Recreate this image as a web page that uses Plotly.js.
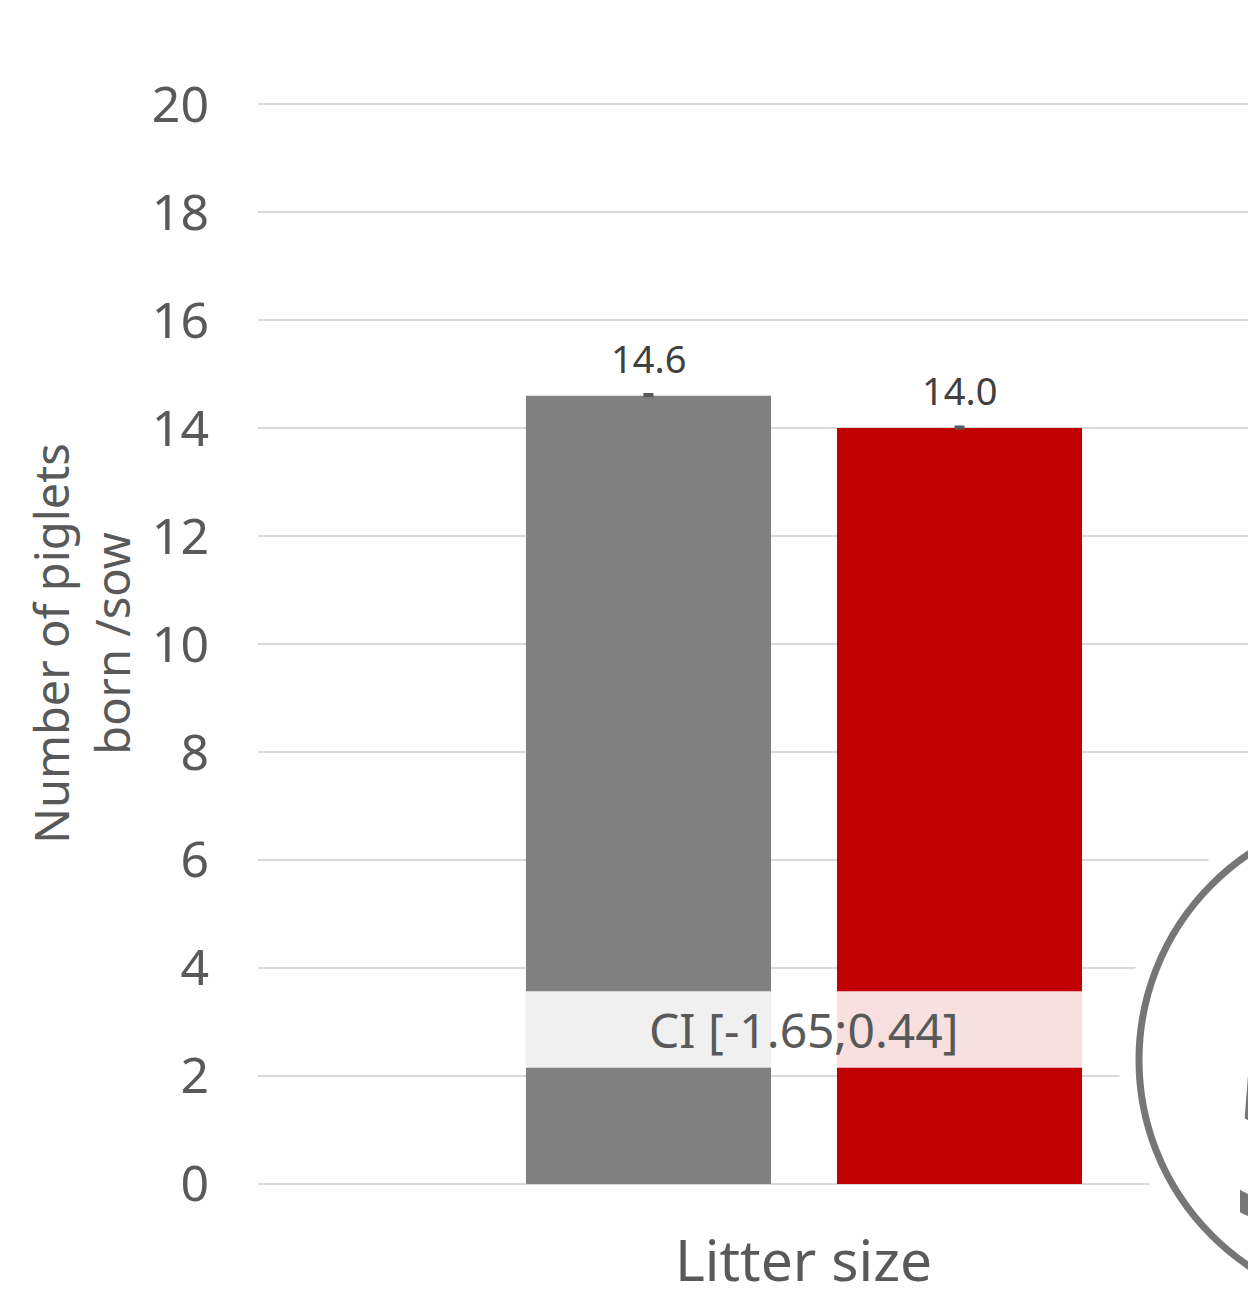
<!DOCTYPE html>
<html>
<head>
<meta charset="utf-8">
<script src="https://cdn.plot.ly/plotly-3.0.1.min.js"></script>
<style>
html,body{margin:0;padding:0;overflow:hidden;background:#fff;}
#chart{width:1349px;height:1297px;}
</style>
</head>
<body>
<div id="chart"></div>
<script>
// ---- data ----
const categories = ["Litter size"];
const groupA = [14.6];          // grey bar
const groupB = [14.0];          // red bar
const errA = [0.02];
const errB = [0.02];
const labelsA = ["14.6"];
const labelsB = ["14.0"];
const ciText = "CI [-1.65;0.44]";
const ciLow = [2.15];
const ciHigh = [3.57];
const yTicks = [0, 2, 4, 6, 8, 10, 12, 14, 16, 18, 20];
const circleText = "5%";

// ---- layout constants ----
const W = 1349, H = 1297;
const mL = 258, mR = 0, mT = 102, mB = 112;
const pw = W - mL - mR, ph = H - mT - mB;
const font = '"Noto Sans", "DejaVu Sans", sans-serif';
const barW = 0.2246;
const offA = -0.2544, offB = 0.0307;
const yMin = -0.02, yMax = 20.04;

const px2x = p => (p - mL) / pw;
const px2y = p => (H - mB - p) / ph;

const traces = [
  {
    type: 'bar', x: categories, y: groupA, width: [barW], offset: [offA],
    marker: {color: '#808080'},
    error_y: {type: 'data', array: errA, arrayminus: [0], symmetric: false, color: '#595959', thickness: 3, width: 5},
    hoverinfo: 'skip', showlegend: false
  },
  {
    type: 'bar', x: categories, y: groupB, width: [barW], offset: [offB],
    marker: {color: '#C00000'},
    error_y: {type: 'data', array: errB, arrayminus: [0], symmetric: false, color: '#595959', thickness: 3, width: 5},
    hoverinfo: 'skip', showlegend: false
  }
];

// circle geometry (decorative, partly off-page)
const cx = 1387, cy = 1060, r = 248;
const halo = r + 20;

const layout = {
  width: W, height: H,
  margin: {l: mL, r: mR, t: mT, b: mB, pad: 0},
  paper_bgcolor: '#ffffff', plot_bgcolor: '#ffffff',
  barmode: 'group',
  font: {family: font, color: '#595959'},
  xaxis: {
    type: 'category', range: [-0.5, 0.5],
    showgrid: false, showline: false, zeroline: false, ticks: '',
    tickfont: {size: 57, color: '#595959', family: font},
    ticklabelstandoff: 38, fixedrange: true
  },
  yaxis: {
    range: [yMin, yMax], tickvals: yTicks, ticktext: yTicks.map(String),
    showgrid: true, gridcolor: '#d9d9d9', gridwidth: 2,
    zeroline: false, showline: false, ticks: '',
    tickfont: {size: 50, color: '#595959', family: font},
    ticklabelstandoff: 48,
    title: {text: 'Number of piglets<br>born /sow', font: {size: 47, color: '#595959', family: font}, standoff: 6},
    fixedrange: true
  },
  shapes: [
    {type: 'rect', xref: 'x', yref: 'y', x0: offA, x1: offB + barW, y0: ciLow[0], y1: ciHigh[0],
     fillcolor: 'rgba(255,255,255,0.88)', line: {width: 0}, layer: 'above'},
    {type: 'circle', xref: 'paper', yref: 'paper',
     x0: px2x(cx - halo), x1: px2x(cx + halo), y0: px2y(cy + halo), y1: px2y(cy - halo),
     fillcolor: '#ffffff', line: {width: 0}, layer: 'above'},
    {type: 'circle', xref: 'paper', yref: 'paper',
     x0: px2x(cx - r), x1: px2x(cx + r), y0: px2y(cy + r), y1: px2y(cy - r),
     fillcolor: '#ffffff', line: {color: '#767676', width: 7}, layer: 'above'}
  ],
  annotations: [
    {xref: 'x', yref: 'y', x: offA + barW / 2, y: groupA[0] + errA[0], text: labelsA[0],
     showarrow: false, yanchor: 'bottom', yshift: 9, font: {size: 38, color: '#404040', family: font}},
    {xref: 'x', yref: 'y', x: offB + barW / 2, y: groupB[0] + errB[0], text: labelsB[0],
     showarrow: false, yanchor: 'bottom', yshift: 9, font: {size: 38, color: '#404040', family: font}},
    {xref: 'x', yref: 'y', x: (offA + offB + barW) / 2, y: (ciLow[0] + ciHigh[0]) / 2, text: ciText,
     showarrow: false, font: {size: 48, color: '#595959', family: font}},
    {xref: 'paper', yref: 'paper', x: px2x(1221), y: px2y(1115), xanchor: 'left', yanchor: 'middle',
     text: circleText, showarrow: false, font: {size: 270, color: '#767676', family: font}}
  ]
};

Plotly.newPlot('chart', traces, layout, {staticPlot: true, displayModeBar: false});
</script>
</body>
</html>
